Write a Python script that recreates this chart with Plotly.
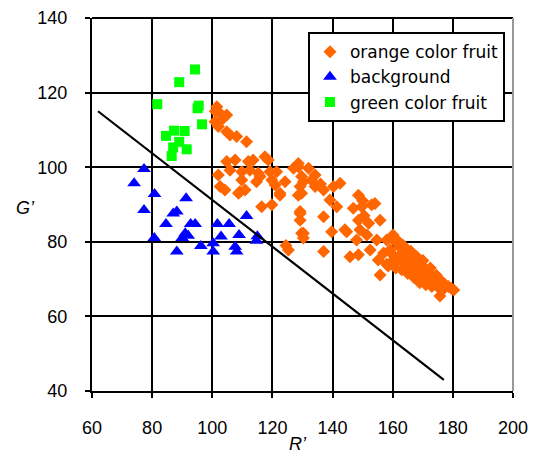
import plotly.graph_objects as go

# ---------------- data ----------------
orange_x = [101.5, 102.6, 104.8, 100.9, 102, 104.8, 105.9, 108.1, 111.4, 103.5, 101,
            104.8, 107.6, 112, 113.6, 117.5, 118.6, 105.9, 109.8, 112.5, 115.3, 119.2, 121.4, 127, 128.6,
            102, 102.6, 104.2, 109.8, 110.9, 109.2, 114.7, 115.9, 119.8, 120.9, 124.2, 122.5, 129.2, 129.7,
            108.7, 116.4, 119.8, 122.5, 128.6, 129.2, 129.2, 130.3, 125.3, 124.5,
            128.6, 132, 134.2, 130.3, 129.7, 134.2, 137, 140.3, 142.5, 139.1, 141.4, 137, 129.2, 129.7,
            130.3, 139.7, 144.1, 137, 133, 136,
            148.6, 146.9, 149.7, 153, 154.1, 155.8, 148.6, 149.1, 148, 151.4, 145.8, 148.6, 154.7, 152.5,
            155.2, 158, 159.1, 159.1, 161.3, 155.8, 144.7, 150.5, 152, 150,
            160.1, 161, 162, 162.5, 163.5, 164.5, 160, 161.5, 162.5, 163.5, 164.5, 165.5, 165.5, 166.5,
            166.5, 167.5, 167.5, 168.5, 168.5, 169.5, 169.5, 170.5, 170.5, 171.5, 171.5, 172.5, 172.5,
            173.5, 173.5, 174.5, 174.5, 175.5, 175.5, 176.5, 176.5, 177.5, 178.5, 179.5, 180.3, 175.7,
            158, 157, 158.5, 161, 163, 165, 167, 169, 171, 173, 166, 168, 170, 164]
orange_y = [116.2, 114.4, 114, 112.2, 110.9, 109.5, 108.6, 108.2, 106.8, 113, 115,
            101.5, 101.9, 101.5, 101.9, 102.8, 101.9, 99.2, 98.8, 99.2, 98.4, 98.8, 98.8, 99.7, 101,
            97.9, 94.8, 93.9, 96.6, 93.9, 93.4, 96.1, 97.5, 96.6, 95.2, 96.1, 93, 94.8, 97.5,
            93, 89.4, 89.9, 92.5, 92.5, 87.6, 85.8, 82.3, 77.8, 79,
            100.1, 99.7, 97.9, 96.1, 93, 94.8, 93.9, 94.8, 95.7, 91.2, 89.4, 86.7, 88.1, 82.3,
            81, 82.7, 83.2, 77.4, 96.5, 95.5,
            92.5, 89, 89.4, 89.9, 90.3, 85.8, 85.8, 83.2, 80.5, 81.8, 76, 76.5, 80.5, 77.8,
            75.1, 80.5, 77.8, 74.2, 79.6, 71.1, 82.7, 87, 85, 91,
            81.8, 80, 80, 78.5, 79, 78, 76.5, 75, 76.5, 74.5, 76, 77, 74, 75.5,
            72.5, 74, 76, 73, 71, 74.5, 72, 73, 70.5, 72, 69.5, 71, 73,
            70, 68.5, 71, 69, 70, 67.5, 69, 67, 68.5, 68, 67.5, 67.1, 65.5,
            74, 77, 73.5, 73, 72.5, 71.5, 70.5, 69, 68.5, 68, 77.5, 76, 75, 73]

blue_x = [77.3, 74, 80.8, 77.3, 91.3, 87, 88.2, 84.6, 92.8, 94.3, 80.7, 91, 92, 88.2, 96.2,
          101.7, 105.6, 111.4, 102.9, 108.9, 100.3, 100.3, 107.6, 108.1, 114.7, 115, 90]
blue_y = [99.5, 95.7, 92.8, 88.5, 91.7, 87.6, 88.1, 84.8, 84.8, 84.8, 81, 82.3, 81.6, 77.4, 78.9,
          84.8, 84.8, 86.9, 81.4, 81.8, 79.6, 77.4, 78.7, 77.4, 80.3, 81.5, 81]

green_x = [94.25, 89, 81.7, 95.1, 96.6, 87.3, 90.8, 84.6, 89, 91.5, 87, 86.5, 95.5]
green_y = [126.2, 122.8, 116.9, 115.8, 111.5, 109.8, 109.7, 108.4, 106.8, 104.8, 105.3, 103, 116.5]

line_x = [62, 177]
line_y = [115, 43]

x_ticks = [60, 80, 100, 120, 140, 160, 180, 200]
y_ticks = [40, 60, 80, 100, 120, 140]

series_names = ["orange color fruit", "background", "green color fruit"]

# ---------------- figure ----------------
fig = go.Figure()
fig.add_trace(go.Scatter(x=orange_x, y=orange_y, mode="markers", name=series_names[0],
                         legendgroup="a",
                         marker=dict(symbol="diamond", size=10, color="#FF6600")))
fig.add_trace(go.Scatter(x=blue_x, y=blue_y, mode="markers", name=series_names[1],
                         legendgroup="b",
                         marker=dict(symbol="triangle-up", size=12, color="#0000FF")))
fig.add_trace(go.Scatter(x=green_x, y=green_y, mode="markers", name=series_names[2],
                         legendgroup="c",
                         marker=dict(symbol="square", size=10, color="#00FF00")))
fig.add_trace(go.Scatter(x=line_x, y=line_y, mode="lines", showlegend=False,
                         line=dict(color="black", width=2.2)))

tickfont = dict(family="Liberation Sans, Arial, sans-serif", size=18, color="black")

fig.update_layout(
    width=534, height=460,
    margin=dict(l=92, r=21, t=18, b=69, autoexpand=False),
    paper_bgcolor="white", plot_bgcolor="white",
    showlegend=True,
    legend=dict(x=0.513, y=0.962, xanchor="left", yanchor="top",
                bgcolor="white", bordercolor="black", borderwidth=2,
                font=dict(family="DejaVu Sans, sans-serif", size=17, color="black"),
                tracegroupgap=0),
    xaxis=dict(range=[60, 200], tickmode="array", tickvals=x_ticks,
               ticktext=[str(v) for v in x_ticks], automargin=False,
               showgrid=True, gridcolor="black", gridwidth=2.2,
               showline=True, linecolor="black", linewidth=2.2,
               ticks="outside", ticklen=5, tickwidth=2, tickcolor="black",
               tickfont=tickfont, ticklabelstandoff=14, zeroline=False),
    yaxis=dict(range=[40, 140], tickmode="array", tickvals=y_ticks,
               ticktext=[str(v) for v in y_ticks], automargin=False,
               showgrid=True, gridcolor="black", gridwidth=2.2,
               showline=True, linecolor="black", linewidth=2.2,
               ticks="outside", ticklen=5, tickwidth=2, tickcolor="black",
               tickfont=tickfont, ticklabelstandoff=14, zeroline=False),
    shapes=[
        dict(type="line", xref="paper", yref="paper", x0=0, x1=1, y0=1, y1=1,
             line=dict(color="black", width=2.2)),
        dict(type="line", xref="paper", yref="paper", x0=1, x1=1, y0=0, y1=1,
             line=dict(color="#999999", width=2)),
    ],
    annotations=[
        dict(text="<i>G’</i>", xref="paper", yref="paper", x=-0.158, y=0.49,
             xanchor="center", yanchor="middle", showarrow=False,
             font=dict(family="Liberation Sans, Arial, sans-serif", size=18, color="black")),
        dict(text="<i>R’</i>", xref="paper", yref="paper", x=0.49, y=-0.142,
             xanchor="center", yanchor="middle", showarrow=False,
             font=dict(family="Liberation Sans, Arial, sans-serif", size=18, color="black")),
    ],
)

fig.write_html("out.html", config={"displayModeBar": False},
               post_script="document.body.style.margin='0';")
